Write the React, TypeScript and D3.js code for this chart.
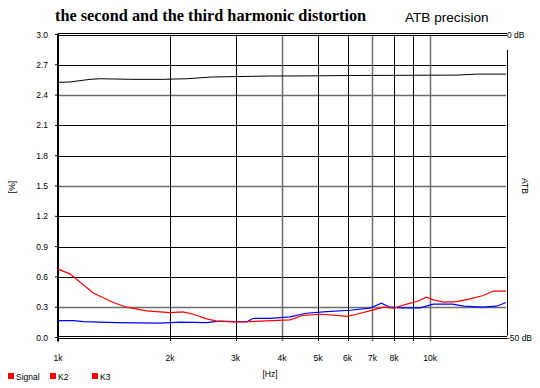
import React from "react";
import * as d3 from "d3";

// signal level (left scale, % axis shared)
const signalFreq = [1000, 1077, 1219, 1297, 1590, 1910, 2220, 2580, 3710, 4610, 6100, 11800, 13400, 16000];
const signalVal = [2.526, 2.53, 2.556, 2.562, 2.556, 2.556, 2.562, 2.579, 2.589, 2.59, 2.594, 2.598, 2.608, 2.608];

// second harmonic
const k2Freq = [1000, 1077, 1244, 1408, 1530, 1730, 2000, 2170, 2310, 2510, 2670, 2960, 3280, 3640, 4200, 4560, 5060, 5620, 5980, 6350, 7040, 7490, 7980, 8660, 9220, 9790, 10200, 10900, 11800, 12800, 13900, 14800, 16000];
const k2Val = [0.677, 0.63, 0.44, 0.347, 0.3, 0.264, 0.247, 0.254, 0.23, 0.185, 0.162, 0.155, 0.158, 0.165, 0.175, 0.22, 0.23, 0.22, 0.21, 0.23, 0.274, 0.3, 0.29, 0.33, 0.356, 0.4, 0.373, 0.35, 0.356, 0.383, 0.416, 0.46, 0.46];

// third harmonic
const k3Freq = [1000, 1100, 1170, 1440, 1880, 2130, 2510, 2720, 2960, 3220, 3350, 3710, 4200, 4650, 5270, 6100, 6880, 7400, 7800, 8460, 9400, 10200, 11500, 12300, 13900, 15100, 16000];
const k3Val = [0.168, 0.168, 0.158, 0.148, 0.142, 0.152, 0.148, 0.162, 0.158, 0.155, 0.19, 0.19, 0.205, 0.24, 0.257, 0.27, 0.29, 0.34, 0.3, 0.294, 0.294, 0.33, 0.33, 0.31, 0.3, 0.31, 0.347];

const yTicks = [0, 0.3, 0.6, 0.9, 1.2, 1.5, 1.8, 2.1, 2.4, 2.7, 3.0];
const grayY = [0.3, 1.5, 2.4];
const xTicks = [1000, 2000, 3000, 4000, 5000, 6000, 7000, 8000, 10000];
const xTickLabels = ["1k", "2k", "3k", "4k", "5k", "6k", "7k", "8k", "10k"];
const xGrid = [2000, 3000, 4000, 5000, 6000, 7000, 8000, 9000, 10000];
const grayX = [4000, 7000, 10000];
const legend = ["Signal", "K2", "K3"];

export default function App() {
  const W = 540, H = 388;
  const x = d3.scaleLog().domain([1000, 16000]).range([58, 506]);
  const y = d3.scaleLinear().domain([0, 3]).range([337.5, 34.5]);
  const mk = (fs: number[], vs: number[]) =>
    d3.line<number>().x((_, i) => x(fs[i])).y((v) => y(v)).curve(d3.curveLinear)(vs) || "";
  const font = "Arial, 'Liberation Sans', sans-serif";
  const x0 = x.range()[0], x1 = x.range()[1];
  const yTop = y(3), yBot = y(0);
  const grey = "#6e6e6e";

  return (
    <svg width={W} height={H} style={{ position: "absolute", left: 0, top: 0, background: "#fff" }} fontFamily={font}>
      <rect width={W} height={H} fill="#fff" />
      <text x={55} y={21} fontFamily="'Liberation Serif', 'Times New Roman', serif" fontWeight="bold" fontSize={16.3}>
        the second and the third harmonic distortion
      </text>
      <text x={405} y={22} fontSize={13.6}>ATB precision</text>

      {/* horizontal grid */}
      {yTicks.filter((t) => t > 0 && t < 3).map((t) => (
        <line key={"h" + t} x1={x0} x2={x1} y1={Math.round(y(t)) + 0.5} y2={Math.round(y(t)) + 0.5}
          stroke={grayY.includes(t) ? grey : "#000"} strokeWidth={grayY.includes(t) ? 1.5 : 1} />
      ))}
      {/* vertical grid */}
      {xGrid.map((f) => (
        <line key={"v" + f} x1={Math.round(x(f)) + 0.5} x2={Math.round(x(f)) + 0.5} y1={yTop} y2={yBot + 3.5}
          stroke={grayX.includes(f) ? grey : "#000"} strokeWidth={grayX.includes(f) ? 1.5 : 1} />
      ))}

      {/* frame double lines */}
      <line x1={x0} x2={x1 + 1} y1={yTop - 1} y2={yTop - 1} stroke="#000" />
      <line x1={x0} x2={x1 + 1} y1={yTop + 1} y2={yTop + 1} stroke="#000" />
      <line x1={x0} x2={x1 + 1} y1={yBot - 1} y2={yBot - 1} stroke="#000" />
      <line x1={x0} x2={x1 + 1} y1={yBot + 1} y2={yBot + 1} stroke="#000" />
      {/* left axis */}
      <line x1={x0} x2={x0} y1={yTop - 1} y2={yBot + 4} stroke="#000" strokeWidth={2} />
      {yTicks.map((t) => (
        <g key={"yt" + t}>
          <line x1={x0 - 3} x2={x0} y1={y(t)} y2={y(t)} stroke="#000" />
          <text x={48} y={y(t) + 3} textAnchor="end" fontSize={8.5}>{t.toFixed(1)}</text>
        </g>
      ))}
      {/* right axis */}
      <line x1={507.5} x2={507.5} y1={50} y2={yBot - 2} stroke="#000" />
      <text x={507} y={yTop + 3} fontSize={8.5}>0 dB</text>
      <text x={507} y={yBot + 3.5} fontSize={8.5}>-50 dB</text>
      <text transform={`translate(522,186) rotate(90)`} textAnchor="middle" fontSize={8.5}>ATB</text>
      <text transform={`translate(15,187) rotate(-90)`} textAnchor="middle" fontSize={8.5}>[%]</text>

      {xTicks.map((f, i) => (
        <text key={"xt" + f} x={x(f)} y={361} textAnchor="middle" fontSize={8.5}>{xTickLabels[i]}</text>
      ))}
      <text x={270} y={377} textAnchor="middle" fontSize={8.5}>[Hz]</text>

      {/* series */}
      <path d={mk(signalFreq, signalVal)} fill="none" stroke="#000" strokeWidth={1} />
      <path d={mk(k3Freq, k3Val)} fill="none" stroke="#0000ff" strokeWidth={1.2} />
      <path d={mk(k2Freq, k2Val)} fill="none" stroke="#ff0000" strokeWidth={1.2} />

      {/* legend */}
      {legend.map((l, i) => (
        <g key={l} transform={`translate(${[8, 50, 92][i]},0)`}>
          <rect x={0} y={373} width={6} height={6} fill="#ff0000" />
          <text x={8} y={380} fontSize={8.5}>{l}</text>
        </g>
      ))}
    </svg>
  );
}
